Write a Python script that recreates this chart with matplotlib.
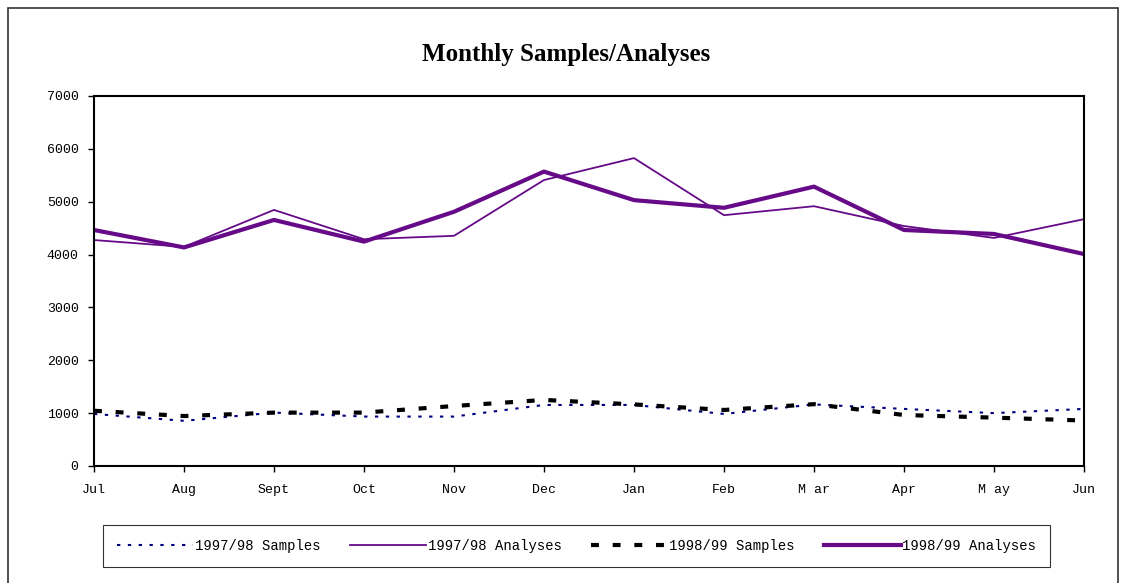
import matplotlib.pyplot as plt
from matplotlib.patches import Rectangle

months = ['Jul', 'Aug', 'Sept', 'Oct', 'Nov', 'Dec', 'Jan', 'Feb', 'M ar', 'Apr', 'M ay', 'Jun']
samples_9798 = [985, 855, 1010, 935, 935, 1155, 1155, 985, 1165, 1080, 1000, 1080]
analyses_9798 = [4275, 4145, 4845, 4290, 4355, 5410, 5825, 4745, 4915, 4540, 4315, 4670]
samples_9899 = [1045, 945, 1010, 1010, 1135, 1250, 1165, 1060, 1170, 965, 915, 860]
analyses_9899 = [4465, 4135, 4655, 4245, 4810, 5570, 5030, 4885, 5285, 4465, 4390, 4010]

purple = '#660a88'

fig = plt.figure(figsize=(11.27, 5.83), dpi=100)
ax = fig.add_axes([94 / 1127, 1 - 466 / 583, 990 / 1127, 370 / 583])

x = range(len(months))
ax.plot(x, samples_9798, color='#000080', linestyle=(0, (1.6, 3.6)), linewidth=1.5, label='1997/98 Samples')
ax.plot(x, analyses_9798, color=purple, linewidth=1.3, label='1997/98 Analyses')
ax.plot(x, samples_9899, color='black', linestyle=(0, (1.9, 3.3)), linewidth=3.0, label='1998/99 Samples')
ax.plot(x, analyses_9899, color=purple, linewidth=3.0, label='1998/99 Analyses')

ax.set_xlim(0, len(months) - 1)
ax.set_ylim(0, 7000)
ax.set_yticks(range(0, 7001, 1000))
ax.set_xticks(list(x))
ax.set_xticklabels(months)
ax.tick_params(direction='out', length=4, width=1, labelsize=9.5)
ax.tick_params(axis='x', pad=9)
ax.tick_params(axis='y', pad=7)
for lab in ax.get_xticklabels() + ax.get_yticklabels():
    lab.set_family('Liberation Mono')
for s in ax.spines.values():
    s.set_linewidth(1.5)

fig.text(566 / 1127, 1 - 55 / 583, 'Monthly Samples/Analyses', ha='center', va='center',
         fontsize=18, fontweight='bold', family='Liberation Serif')

leg = fig.legend(loc='center', ncol=4, mode='expand',
                 bbox_to_anchor=(96 / 1127, 1 - 568 / 583, 961 / 1127, 44 / 583),
                 prop={'family': 'Liberation Mono', 'size': 10}, fancybox=False,
                 edgecolor='black', handlelength=5.5, handletextpad=0.1, borderpad=1.0)
leg.get_frame().set_linewidth(0.8)

fig.patches.append(Rectangle((8 / 1127, -0.05), 1110 / 1127, 1.05 - 8 / 583, transform=fig.transFigure,
                             fill=False, edgecolor='#333333', linewidth=1.2))

fig.savefig('out.png', dpi=100)
